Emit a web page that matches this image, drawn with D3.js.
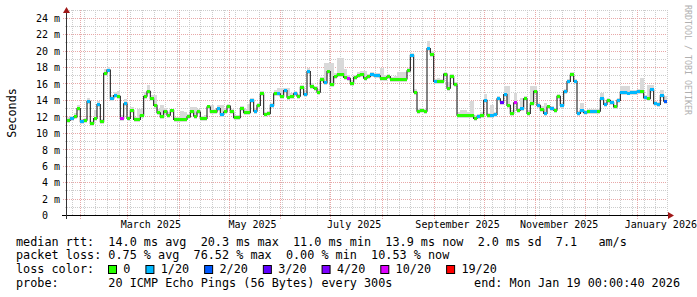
<!DOCTYPE html>
<html>
<head>
<meta charset="utf-8">
<script src="https://cdn.jsdelivr.net/npm/d3@7"></script>
<style>
  body { margin: 0; background: #fff; }
  svg { display: block; font-family: 'DejaVu Sans Mono', monospace; }
  text { white-space: pre; }
</style>
</head>
<body>
<svg id="chart" width="697" height="297"></svg>
<script>
// 2-day samples, 24 Jan 2025 -> 19 Jan 2026 (ms)
const medianRtt = [
  11.6, 11.8, 12.0, 13.0, 11.4, 11.6, 13.9, 11.2, 11.8, 13.5,
  11.4, 17.3, 17.7, 14.2, 14.6, 14.5, 11.8, 13.6, 11.8, 12.8,
  11.7, 11.7, 12.2, 14.5, 15.1, 14.2, 13.4, 12.5, 12.0, 12.7,
  12.2, 12.8, 11.7, 11.7, 11.7, 11.7, 12.0, 12.6, 12.1, 12.6,
  11.8, 11.8, 13.2, 12.6, 12.6, 13.0, 12.3, 12.6, 13.3, 12.6,
  11.9, 11.9, 13.0, 12.5, 12.5, 14.0, 12.7, 13.4, 14.8, 12.3,
  12.4, 13.4, 14.8, 14.8, 14.5, 15.2, 14.4, 14.5, 14.8, 14.5,
  15.6, 14.7, 17.5, 15.7, 15.5, 15.0, 16.5, 16.2, 17.5, 15.9,
  16.9, 17.1, 17.2, 16.8, 16.7, 16.1, 16.8, 17.0, 17.2, 16.7,
  16.9, 17.1, 17.0, 17.0, 16.7, 16.7, 16.9, 16.6, 16.6, 16.6,
  16.6, 16.6, 17.6, 19.5, 15.0, 12.7, 12.8, 12.7, 20.3, 19.6,
  16.3, 16.3, 16.3, 17.2, 15.5, 16.9, 15.9, 12.2, 12.2, 12.2,
  12.2, 12.2, 11.8, 12.0, 12.2, 14.0, 12.2, 12.2, 12.3, 14.2,
  13.8, 14.7, 13.4, 12.4, 13.7, 12.8, 13.0, 14.2, 12.4, 13.6,
  15.1, 13.4, 12.9, 12.4, 13.2, 13.0, 12.8, 14.5, 13.4, 15.1,
  16.3, 17.1, 16.3, 12.4, 12.8, 12.5, 12.6, 12.6, 12.6, 12.7,
  14.2, 13.5, 14.0, 13.7, 13.2, 14.0, 15.0, 15.0, 14.9, 15.0,
  15.0, 15.1, 15.1, 14.3, 14.2, 15.3, 13.6, 13.5, 14.6, 13.9
];

// index into lossColors
const lossLevel = [
  0, 1, 0, 0, 1, 0, 1, 0, 0, 1,
  0, 0, 1, 1, 1, 0, 5, 1, 0, 0,
  0, 0, 0, 0, 0, 0, 0, 0, 0, 0,
  0, 0, 0, 0, 0, 0, 0, 0, 0, 0,
  0, 0, 0, 0, 0, 1, 1, 0, 0, 0,
  0, 0, 0, 0, 0, 1, 1, 0, 0, 0,
  0, 1, 0, 1, 0, 1, 0, 0, 1, 0,
  0, 1, 1, 0, 0, 0, 0, 1, 0, 0,
  0, 0, 0, 0, 5, 0, 0, 0, 0, 0,
  0, 1, 1, 1, 0, 0, 0, 0, 0, 0,
  0, 0, 0, 1, 0, 0, 0, 0, 1, 0,
  1, 0, 0, 0, 0, 0, 0, 0, 0, 0,
  0, 0, 0, 1, 0, 1, 0, 1, 1, 1,
  3, 1, 0, 0, 5, 0, 1, 0, 0, 0,
  0, 1, 0, 1, 0, 1, 0, 0, 1, 1,
  1, 0, 1, 1, 1, 1, 0, 1, 1, 0,
  1, 1, 0, 1, 0, 1, 1, 1, 1, 1,
  1, 1, 0, 1, 0, 1, 1, 1, 1, 2
];

// smoke: how far the slowest pings reach above the median (ms)
const smokeSpread = [
  0.4, 0.3, 0.5, 0.4, 0.3, 0.3, 0.4, 0.3, 1.0, 0.4,
  0.3, 0.5, 0.4, 0.5, 0.4, 0.6, 0.4, 0.6, 0.3, 0.4,
  0.3, 1.3, 0.8, 0.5, 0.8, 0.4, 1.2, 0.4, 1.4, 0.4,
  0.4, 0.2, 0.3, 0.3, 1.0, 0.9, 0.4, 0.6, 1.1, 0.3,
  0.3, 0.4, 0.3, 0.8, 0.4, 0.5, 1.2, 0.4, 0.3, 0.3,
  0.3, 0.3, 0.3, 0.4, 1.1, 0.3, 0.4, 0.3, 0.4, 0.3,
  0.3, 0.3, 0.5, 0.7, 1.0, 0.3, 1.1, 0.4, 0.4, 0.3,
  0.3, 0.4, 0.5, 0.4, 0.3, 0.4, 0.3, 2.3, 1.0, 2.6,
  0.4, 2.0, 1.9, 1.0, 0.4, 0.4, 0.3, 0.4, 0.4, 0.9,
  0.3, 0.3, 0.3, 0.3, 1.3, 0.4, 0.3, 0.3, 0.4, 0.8,
  0.8, 0.8, 0.4, 0.3, 0.4, 0.3, 0.3, 0.3, 0.9, 0.4,
  0.3, 0.4, 0.3, 0.3, 0.8, 0.3, 0.3, 0.4, 0.6, 0.6,
  0.4, 1.7, 0.4, 0.3, 0.4, 0.8, 0.3, 1.2, 0.3, 0.3,
  0.3, 1.0, 2.3, 0.4, 1.2, 0.3, 1.3, 0.3, 0.4, 2.1,
  0.6, 0.3, 0.4, 1.3, 0.3, 0.3, 0.3, 0.3, 0.3, 0.3,
  0.3, 0.3, 0.3, 0.3, 0.9, 0.3, 0.3, 0.3, 0.3, 0.3,
  0.7, 0.3, 0.3, 0.3, 0.3, 0.3, 0.7, 0.7, 0.8, 0.3,
  0.3, 0.3, 1.6, 0.3, 1.7, 0.6, 0.3, 0.3, 0.7, 0.6
];

const lossLabels = ['0', '1/20', '2/20', '3/20', '4/20', '10/20', '19/20'];
const lossColors = ['#26ff00', '#00b8ff', '#0059ff', '#5e00ff', '#7e00ff', '#dd00ff', '#ff0000'];

const yTickValues = [0, 2, 4, 6, 8, 10, 12, 14, 16, 18, 20, 22, 24];
const yTickLabels = ['0  ', '2 m', '4 m', '6 m', '8 m', '10 m', '12 m', '14 m', '16 m', '18 m', '20 m', '22 m', '24 m'];

// rrdtool centres month labels about half a month after the 1st
const xLabelDates = ['2025-03-15', '2025-05-15', '2025-07-15', '2025-09-15', '2025-11-15', '2026-01-15'];
const xLabelTexts = ['March 2025', 'May 2025', 'July 2025', 'September 2025', 'November 2025', 'January 2026'];

const legendLines = [
  'median rtt:  14.0 ms avg  20.3 ms max  11.0 ms min  13.9 ms now  2.0 ms sd  7.1   am/s',
  'packet loss: 0.75 % avg  76.52 % max  0.00 % min  10.53 % now',
  'loss color:',
  'probe:       20 ICMP Echo Pings (56 Bytes) every 300s'
];
const endText = 'end: Mon Jan 19 00:00:40 2026';

const START = new Date(Date.UTC(2025, 0, 24, 0, 0, 40));
const END = new Date(Date.UTC(2026, 0, 19, 0, 0, 40));
const STEP_DAYS = 2;
const SMOKE_BELOW = 0.3;

const svg = d3.select('#chart');
svg.append('rect').attr('width', 697).attr('height', 297).attr('fill', '#fff');

const x = d3.scaleUtc().domain([START, END]).range([67, 667]);
const y = d3.scaleLinear().domain([0, 25]).range([215.5, 10]);

const px = (v) => Math.round(v) + 0.5;

// grid
const grid = svg.append('g').attr('fill', 'none').attr('stroke-width', 1).attr('stroke-dasharray', '1,1');

grid.selectAll('.vminor')
  .data(x.ticks(d3.utcMonday))
  .join('line')
  .attr('x1', (d) => px(x(d))).attr('x2', (d) => px(x(d)))
  .attr('y1', 10).attr('y2', 215)
  .attr('stroke', '#cccccc');

grid.selectAll('.hminor')
  .data(y.ticks(25).filter((d) => d % 2 === 1))
  .join('line')
  .attr('x1', 65).attr('x2', 667)
  .attr('y1', (d) => px(y(d) - 0.5)).attr('y2', (d) => px(y(d) - 0.5))
  .attr('stroke', '#cccccc');

grid.selectAll('.vmajor')
  .data(x.ticks(d3.utcMonth))
  .join('line')
  .attr('x1', (d) => px(x(d))).attr('x2', (d) => px(x(d)))
  .attr('y1', 10).attr('y2', 219)
  .attr('stroke', '#e8a8a8');

grid.selectAll('.hmajor')
  .data(yTickValues.filter((d) => d > 0))
  .join('line')
  .attr('x1', 63).attr('x2', 667)
  .attr('y1', (d) => px(y(d) - 0.5)).attr('y2', (d) => px(y(d) - 0.5))
  .attr('stroke', '#e8a8a8');

// samples
const samples = medianRtt.map((v, i) => ({
  t0: d3.utcDay.offset(START, i * STEP_DAYS),
  t1: d3.utcDay.offset(START, (i + 1) * STEP_DAYS),
  median: v,
  loss: lossLevel[i],
  spread: smokeSpread[i]
}));

// smoke
svg.append('g')
  .selectAll('rect')
  .data(samples)
  .join('rect')
  .attr('x', (d) => x(d.t0))
  .attr('width', (d) => Math.min(x(d.t1), 667) - x(d.t0))
  .attr('y', (d) => y(d.median + d.spread))
  .attr('height', (d) => y(d.median - SMOKE_BELOW) - y(d.median + d.spread))
  .attr('fill', '#d9d9d9')
  .attr('shape-rendering', 'crispEdges');

// median line
const stepLine = d3.line()
  .x((d) => Math.min(x(d.t), 666))
  .y((d) => y(d.v))
  .curve(d3.curveStepAfter);

const linePts = samples.map((d) => ({ t: d.t0, v: d.median }));
linePts.push({ t: samples[samples.length - 1].t1, v: samples[samples.length - 1].median });

svg.append('path')
  .attr('d', stepLine(linePts))
  .attr('fill', 'none')
  .attr('stroke', '#202020')
  .attr('stroke-width', 1.1);

// loss colour marks on the median
svg.append('g')
  .selectAll('rect')
  .data(samples)
  .join('rect')
  .attr('x', (d) => x(d.t0))
  .attr('width', (d) => Math.min(x(d.t1), 667) - x(d.t0))
  .attr('y', (d) => y(d.median) - 1.5)
  .attr('height', 3)
  .attr('fill', (d) => lossColors[d.loss])
  .attr('shape-rendering', 'crispEdges');

// axes lines + arrows
svg.append('line')
  .attr('x1', 62).attr('x2', 669).attr('y1', 215.5).attr('y2', 215.5)
  .attr('stroke', '#000');
svg.append('line')
  .attr('x1', 66.5).attr('x2', 66.5).attr('y1', 219).attr('y2', 12)
  .attr('stroke', '#333');
svg.append('path')
  .attr('d', 'M668,212L668,219L674,215.5Z')
  .attr('fill', '#a01818');
svg.append('path')
  .attr('d', 'M63,13L70,13L66.5,7Z')
  .attr('fill', '#a01818');

// y labels
const yAxis = d3.axisLeft(y)
  .tickValues(yTickValues)
  .tickFormat((d, i) => yTickLabels[i])
  .tickSize(0)
  .tickPadding(7);

svg.append('g')
  .attr('transform', 'translate(67,0)')
  .call(yAxis)
  .call((g) => g.select('.domain').remove())
  .selectAll('text')
  .attr('dy', '0.33em')
  .style('font', '10px "DejaVu Sans Mono"')
  .attr('fill', '#000');

// x labels
const xAxis = d3.axisBottom(x)
  .tickValues(xLabelDates.map((s) => new Date(s + 'T00:00:00Z')))
  .tickFormat((d, i) => xLabelTexts[i])
  .tickSize(0)
  .tickPadding(5);

svg.append('g')
  .attr('transform', 'translate(0,215.5)')
  .call(xAxis)
  .call((g) => g.select('.domain').remove())
  .selectAll('text')
  .style('font', '10px "DejaVu Sans Mono"')
  .attr('fill', '#000');

// y title
svg.append('text')
  .attr('transform', 'translate(15.5,113) rotate(-90)')
  .attr('text-anchor', 'middle')
  .style('font-size', '11.8px')
  .text('Seconds');

// watermark
svg.append('text')
  .attr('transform', 'translate(684.5,5) rotate(90)')
  .style('font-size', '8.3px')
  .attr('fill', '#b0b0b0')
  .text('RRDTOOL / TOBI OETIKER');

// legend
const LEGEND_Y = [245.7, 259.3, 273.2, 286.8];
legendLines.forEach((line, i) => {
  svg.append('text')
    .attr('x', 16)
    .attr('y', LEGEND_Y[i])
    .style('font-size', '11.8px')
    .text(line);
});

svg.append('text')
  .attr('x', 680)
  .attr('y', LEGEND_Y[3])
  .attr('text-anchor', 'end')
  .style('font-size', '11.8px')
  .text(endText);

let cx = 108;
lossLabels.forEach((lab, i) => {
  svg.append('rect')
    .attr('x', cx + 0.5).attr('y', 265.5)
    .attr('width', 8).attr('height', 8)
    .attr('fill', lossColors[i])
    .attr('stroke', '#000');
  const t = svg.append('text')
    .attr('x', cx + 15.3)
    .attr('y', LEGEND_Y[2])
    .style('font-size', '11.8px')
    .text(lab);
  cx = cx + 15.3 + t.node().getComputedTextLength() + 15;
});
</script>
</body>
</html>
